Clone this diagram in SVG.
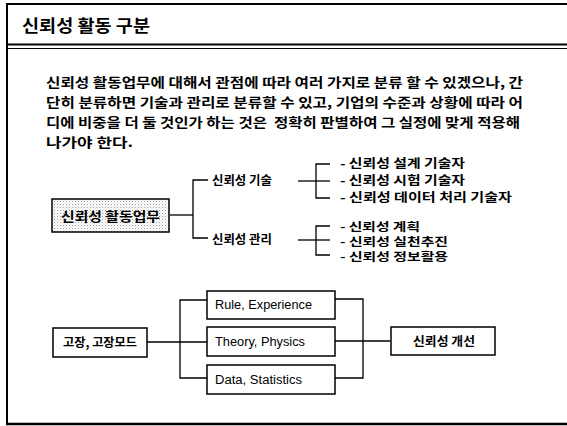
<svg xmlns="http://www.w3.org/2000/svg" width="567" height="426" viewBox="0 0 567 426">
<defs>
<pattern id="dots" width="3" height="3" patternUnits="userSpaceOnUse">
<rect width="3" height="3" fill="#ffffff"/>
<rect x="0" y="0" width="1" height="1" fill="#9a9a9a"/>
<rect x="1.5" y="1.5" width="1" height="1" fill="#c8c8c8"/>
</pattern>
</defs>
<style>
.frame{stroke:#000;fill:none}
.kr{font-family:"Noto Sans CJK KR","Noto Sans",sans-serif;font-weight:bold;fill:#000}
.en{font-family:"Liberation Sans",Arial,sans-serif;font-size:12px;fill:#000}
.box{fill:#fff;stroke:#000;stroke-width:1.5}
.ln{stroke:#000;stroke-width:1.3;fill:none}
</style>
<g id="frame">
<line class="frame" x1="6" y1="4" x2="567" y2="4" stroke-width="2"/>
<line class="frame" x1="7" y1="3" x2="7" y2="425" stroke-width="2"/>
<line class="frame" x1="6" y1="44.5" x2="567" y2="44.5" stroke-width="2.2"/>
<line class="frame" x1="6" y1="48.5" x2="567" y2="48.5" stroke-width="1"/>
<line class="frame" x1="6" y1="424" x2="567" y2="424" stroke-width="2.5"/>
</g>
<g id="title">
<text class="kr" x="22" y="32" font-size="17" textLength="128" lengthAdjust="spacingAndGlyphs">신뢰성 활동 구분</text>
</g>
<g id="paragraph" class="kr" font-size="13">
<text x="46" y="87" textLength="477" lengthAdjust="spacingAndGlyphs">신뢰성 활동업무에 대해서 관점에 따라 여러 가지로 분류 할 수 있겠으나, 간</text>
<text x="46" y="107" textLength="477" lengthAdjust="spacingAndGlyphs">단히 분류하면 기술과 관리로 분류할 수 있고, 기업의 수준과 상황에 따라 어</text>
<text x="46" y="127" textLength="474" lengthAdjust="spacingAndGlyphs" xml:space="preserve">디에 비중을 더 둘 것인가 하는 것은  정확히 판별하여 그 실정에 맞게 적용해</text>
<text x="46" y="147" textLength="87" lengthAdjust="spacingAndGlyphs">나가야 한다.</text>
</g>
<g id="connectors">
<polyline class="ln" points="170,215 193,215"/>
<polyline class="ln" points="208,180 193,180 193,238 208,238"/>
<line class="ln" x1="298" y1="181" x2="330" y2="181"/>
<polyline class="ln" points="330,164 316,164 316,198 330,198"/>
<line class="ln" x1="298" y1="240" x2="330" y2="240"/>
<polyline class="ln" points="330,226 316,226 316,255 330,255"/>
<line class="ln" x1="147" y1="342" x2="207" y2="342"/>
<polyline class="ln" points="207,300 180,300 180,378 207,378"/>
<polyline class="ln" points="335,299 363,299 363,378 335,378"/>
<line class="ln" x1="335" y1="341" x2="390" y2="341"/>
</g>
<g id="node-activity">
<rect x="52" y="199" width="117" height="33" fill="url(#dots)" stroke="#000" stroke-width="1.5"/>
<text class="kr" x="110.5" y="220.5" font-size="13" text-anchor="middle" textLength="99" lengthAdjust="spacingAndGlyphs">신뢰성 활동업무</text>
</g>
<g id="node-tech">
<text class="kr" x="212" y="184.5" font-size="12" textLength="60" lengthAdjust="spacingAndGlyphs">신뢰성 기술</text>
</g>
<g id="node-mgmt">
<text class="kr" x="212" y="244" font-size="12" textLength="60" lengthAdjust="spacingAndGlyphs">신뢰성 관리</text>
</g>
<g id="tech-items" class="kr" font-size="12">
<text x="340" y="168" textLength="125" lengthAdjust="spacingAndGlyphs">- 신뢰성 설계 기술자</text>
<text x="340" y="185" textLength="125" lengthAdjust="spacingAndGlyphs">- 신뢰성 시험 기술자</text>
<text x="340" y="202" textLength="172" lengthAdjust="spacingAndGlyphs">- 신뢰성 데이터 처리 기술자</text>
</g>
<g id="mgmt-items" class="kr" font-size="11">
<text x="340" y="230.5" textLength="80" lengthAdjust="spacingAndGlyphs">- 신뢰성 계획</text>
<text x="340" y="245.5" textLength="108" lengthAdjust="spacingAndGlyphs">- 신뢰성 실천추진</text>
<text x="340" y="260.5" textLength="108" lengthAdjust="spacingAndGlyphs">- 신뢰성 정보활용</text>
</g>
<g id="node-failure">
<rect class="box" x="53" y="328" width="94" height="29"/>
<text class="kr" x="100" y="346.5" font-size="12" text-anchor="middle" textLength="74" lengthAdjust="spacingAndGlyphs">고장, 고장모드</text>
</g>
<g id="node-rule">
<rect class="box" x="207" y="291" width="128" height="28"/>
<text class="en" x="215" y="309" textLength="97" lengthAdjust="spacingAndGlyphs">Rule, Experience</text>
</g>
<g id="node-theory">
<rect class="box" x="207" y="327" width="128" height="29"/>
<text class="en" x="215" y="346" textLength="90" lengthAdjust="spacingAndGlyphs">Theory, Physics</text>
</g>
<g id="node-data">
<rect class="box" x="207" y="365" width="128" height="29"/>
<text class="en" x="215" y="384" textLength="87" lengthAdjust="spacingAndGlyphs">Data, Statistics</text>
</g>
<g id="node-improve">
<rect class="box" x="391" y="327" width="104" height="28"/>
<text class="kr" x="444" y="345.5" font-size="12" text-anchor="middle" textLength="62" lengthAdjust="spacingAndGlyphs">신뢰성 개선</text>
</g>
</svg>
